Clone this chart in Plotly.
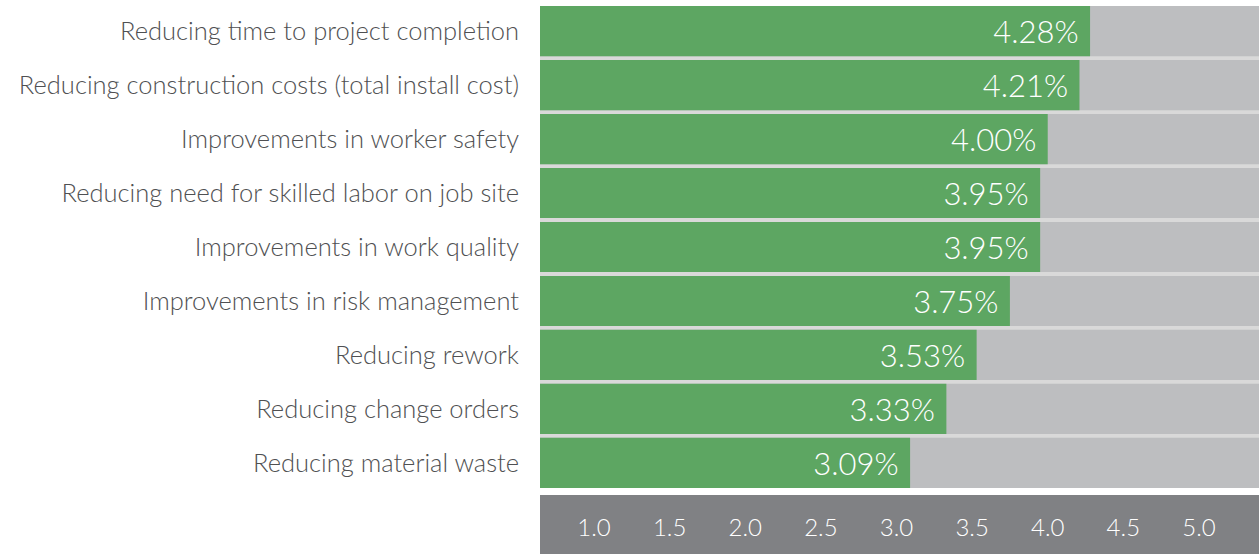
import plotly.graph_objects as go

labels = [
    "Reducing time to project completion",
    "Reducing construction costs (total install cost)",
    "Improvements in worker safety",
    "Reducing need for skilled labor on job site",
    "Improvements in work quality",
    "Improvements in risk management",
    "Reducing rework",
    "Reducing change orders",
    "Reducing material waste",
]
scores = [4.28, 4.21, 4.00, 3.95, 3.95, 3.75, 3.53, 3.33, 3.09]
tick_vals = [1.0, 1.5, 2.0, 2.5, 3.0, 3.5, 4.0, 4.5, 5.0]

green = "#5da662"
track_gray = "#bdbec0"
gap_gray = "#d9d9d9"
band_gray = "#808184"
text_gray = "#4f5052"

x_range = [0.643, 5.397]
bargap = 0.07
n = len(labels)

fig = go.Figure()
# gray track behind each bar, running to the end of the axis
fig.add_trace(go.Bar(
    y=labels, x=[x_range[1]] * n, orientation="h",
    marker=dict(color=track_gray, line=dict(width=0)),
    hoverinfo="skip", showlegend=False,
))
fig.add_trace(go.Bar(
    y=labels, x=scores, orientation="h",
    marker=dict(color=green, line=dict(width=0)),
    text=[f"{v:.2f}%\u00a0" for v in scores],
    textposition="inside", insidetextanchor="end",
    textfont=dict(color="white", size=31, family="Lato", weight=300),
    showlegend=False,
))

# dark band under the plot that carries the tick labels
fig.add_shape(type="rect", xref="paper", yref="paper",
              x0=0, x1=1, y0=-0.14, y1=-0.0145,
              fillcolor=band_gray, line=dict(width=0), layer="below")

fig.update_layout(
    width=1259, height=554,
    margin=dict(l=540, r=0, t=6, b=66),
    barmode="overlay", bargap=bargap,
    plot_bgcolor=gap_gray, paper_bgcolor="white",
    font=dict(family="Lato", color=text_gray),
    xaxis=dict(range=x_range, tickvals=tick_vals,
               ticktext=[f"{t:.1f}" for t in tick_vals],
               showgrid=False, zeroline=False, showline=False,
               ticks="outside", ticklen=18, tickcolor="rgba(0,0,0,0)",
               tickfont=dict(color="white", size=24, family="Lato", weight=300),
               fixedrange=True),
    yaxis=dict(range=[n - 0.5 - bargap / 2, -0.5 + bargap / 2],
               showgrid=False, zeroline=False, showline=False,
               ticklabelstandoff=20,
               tickfont=dict(color=text_gray, size=25.5, family="Lato", weight=300),
               fixedrange=True),
)

fig.write_html("out.html", config={"displayModeBar": False},
               post_script="document.body.style.margin='0';")
